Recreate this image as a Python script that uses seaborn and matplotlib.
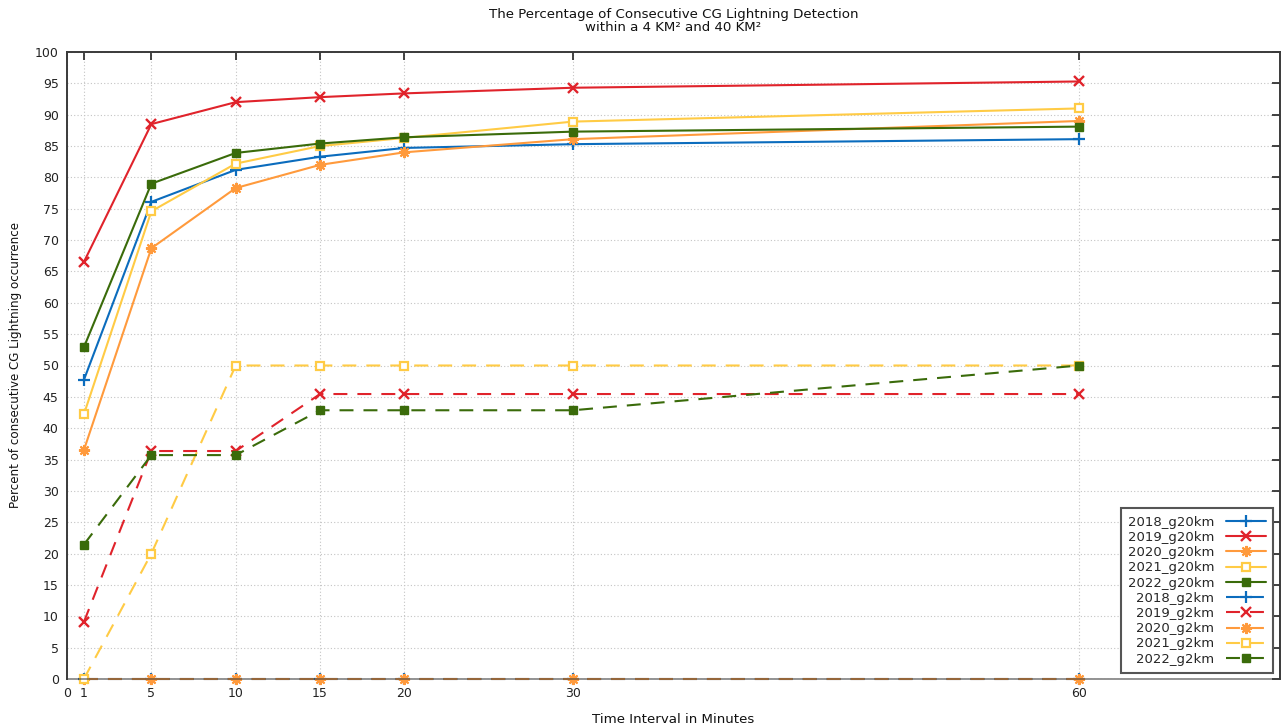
import matplotlib
matplotlib.use("Agg")
import matplotlib.pyplot as plt
import seaborn as sns

# Time intervals (minutes)
minutes = [1, 5, 10, 15, 20, 30, 60]

# Percent of consecutive CG lightning detection, 40 km^2 grid
g20km_2018 = [47.7, 76.1, 81.2, 83.3, 84.7, 85.3, 86.1]
g20km_2019 = [66.5, 88.5, 92.0, 92.8, 93.4, 94.3, 95.3]
g20km_2020 = [36.5, 68.7, 78.3, 82.0, 84.0, 86.1, 89.0]
g20km_2021 = [42.2, 74.6, 82.2, 85.0, 86.3, 88.9, 91.0]
g20km_2022 = [52.9, 79.0, 83.9, 85.4, 86.4, 87.3, 88.1]

# Percent of consecutive CG lightning detection, 4 km^2 grid
g2km_2018 = [0, 0, 0, 0, 0, 0, 0]
g2km_2019 = [9.09, 36.36, 36.36, 45.45, 45.45, 45.45, 45.45]
g2km_2020 = [0, 0, 0, 0, 0, 0, 0]
g2km_2021 = [0, 20.0, 50.0, 50.0, 50.0, 50.0, 50.0]
g2km_2022 = [21.43, 35.71, 35.71, 42.86, 42.86, 42.86, 50.0]

years = ["2018", "2019", "2020", "2021", "2022"]
g20km = [g20km_2018, g20km_2019, g20km_2020, g20km_2021, g20km_2022]
g2km = [g2km_2018, g2km_2019, g2km_2020, g2km_2021, g2km_2022]

x_ticks = [0, 1, 5, 10, 15, 20, 30, 60]
y_ticks = list(range(0, 101, 5))

colors = ["#0b6cbd", "#e0232b", "#ff9a3c", "#ffcb45", "#3a6b0a"]
markers = [
    dict(marker="+", markersize=8, markeredgewidth=1.6),
    dict(marker="x", markersize=7, markeredgewidth=1.7),
    dict(marker=(8, 2, 0), markersize=8, markeredgewidth=1.5),
    dict(marker="s", markersize=5.8, markeredgewidth=1.6, markerfacecolor="white"),
    dict(marker="s", markersize=6, markeredgewidth=1.0),
]

sns.set_style("white")
plt.rcParams["font.family"] = ["DejaVu Sans"]
plt.rcParams["font.size"] = 9

fig = plt.figure(figsize=(12.83, 7.26), dpi=100)
ax = fig.add_axes([67 / 1283, 1 - 679 / 726, (1280 - 67) / 1283, (679 - 52) / 726])

dash = (0, (6.7, 4.8))

for yr, vals, c, mk in zip(years, g20km, colors, markers):
    sns.lineplot(x=minutes, y=vals, ax=ax, color=c, linewidth=1.5,
                 markeredgecolor=c, label=f"{yr}_g20km", clip_on=False,
                 zorder=3, **mk)
for yr, vals, c, mk in zip(years, g2km, colors, markers):
    sns.lineplot(x=minutes, y=vals, ax=ax, color=c, linewidth=1.5,
                 linestyle=dash, markeredgecolor=c, label=f"{yr}_g2km",
                 clip_on=False, zorder=3, **mk)

ax.set_xlim(0, 71.9)
ax.set_ylim(0, 100)
ax.set_xticks(x_ticks)
ax.set_xticklabels([str(t) for t in x_ticks])
ax.set_yticks(y_ticks)
ax.set_yticklabels([str(t) for t in y_ticks])

ax.grid(True, linestyle=(0, (1, 2)), color="#c4c4c4", linewidth=0.8)
ax.set_axisbelow(True)

ax.tick_params(axis="both", direction="in", length=6, width=1.2, color="#222222",
               top=True, right=True, labelsize=9, labelcolor="#222222", pad=6)

for s in ax.spines.values():
    s.set_color("#3a3a3a")
    s.set_linewidth(1.4)
    s.set_zorder(4)
ax.spines["bottom"].set_alpha(0.55)

fig.text((67 + 1280) / 2 / 1283, 1 - 21 / 726,
         "The Percentage of Consecutive CG Lightning Detection\nwithin a 4 KM² and 40 KM²",
         ha="center", va="center", fontsize=9.6, linespacing=0.92, color="#111111")
ax.set_xlabel("Time Interval in Minutes", fontsize=9.6, labelpad=9, color="#111111")
ax.set_ylabel("Percent of consecutive CG Lightning occurrence", fontsize=8.6,
              labelpad=9, color="#111111")

handles, labels = ax.get_legend_handles_labels()
leg = ax.legend(handles, labels, loc="lower right",
                bbox_to_anchor=((1273 - 67) / 1213, (679 - 673) / 627),
                borderaxespad=0, markerfirst=False, fontsize=9.5, handlelength=3.0,
                labelspacing=0.17, fancybox=False, framealpha=1, edgecolor="#555555",
                borderpad=0.55, handletextpad=0.9)
leg.get_frame().set_linewidth(1.5)
for col in leg._legend_handle_box.get_children():
    col.align = "right"

fig.savefig("out.png", dpi=100)
